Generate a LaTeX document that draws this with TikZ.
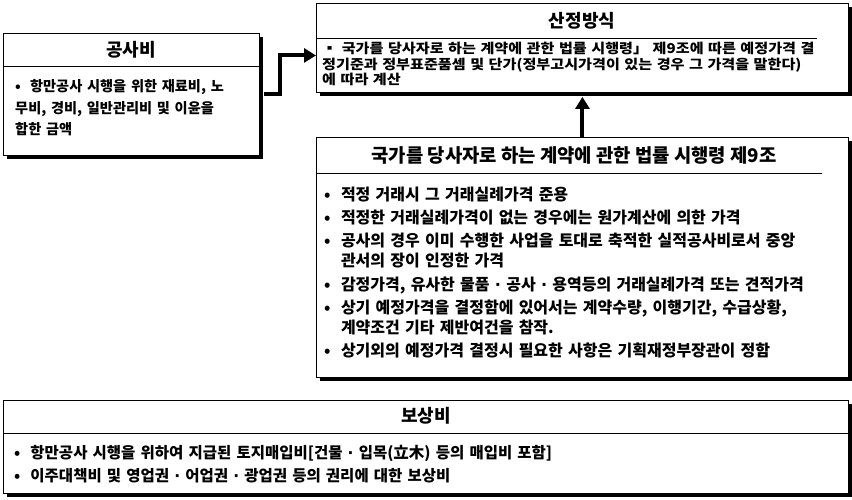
\documentclass[tikz,border=0pt]{standalone}
\usepackage{fontspec}
\setmainfont{Noto Sans CJK KR}
\newfontfamily\widekr{Noto Sans CJK KR}[FakeStretch=1.12]
\newfontfamily\dotfont{DejaVu Sans}
\usetikzlibrary{arrows.meta,shadows,positioning}

\newcommand{\itm}[2][1.05em]{\par\hangindent=#1\hangafter=1\noindent\makebox[#1][l]{•}#2}
\newcommand{\md}{{\dotfont\bfseries ·}}

\begin{document}
\begin{tikzpicture}[line join=miter,>={Triangle[length=12pt,width=14pt]},x=1pt,y=-1pt,
    box/.style={draw=black,line width=0.9pt,fill=white,anchor=north west,inner sep=0pt,
        drop shadow={shadow xshift=4pt,shadow yshift=-4pt,fill=black,opacity=1}},
    title/.style={font=\bfseries\fontsize{18}{20}\selectfont},
    body/.style={anchor=north west,inner sep=0pt,align=left,
        execute at begin node={\setlength{\parskip}{3pt}}},
    flow/.style={->,line width=4pt}]
        \useasboundingbox (0,0) rectangle (852,500);
        % boxes
        \node[box,minimum width=256,minimum height=122] (gongsabi) at (3,33) {};
        \node[box,minimum width=532,minimum height=89] (sanjeong) at (316,3) {};
        \node[box,minimum width=532,minimum height=240] (jeong9) at (316,137) {};
        \node[box,minimum width=845,minimum height=93] (bosangbi) at (3,400) {};
        % header lines
        \draw[line width=0.8pt] (3,66) -- (259,66);
        \draw[line width=0.8pt] (316,38) -- (817,38);
        \draw[line width=0.8pt] (316,173) -- (822,173);
        \draw[line width=0.8pt] (3,433) -- (848,433);
        % titles
        \node[title] (gongsabi title) at (131,50) {공사비};
        \node[title] (sanjeong title) at (582,21) {산정방식};
        \node[title,font=\bfseries\fontsize{18.8}{20}\selectfont] (jeong9 title) at (574,155) {국가를 당사자로 하는 계약에 관한 법률 시행령 제9조};
        \node[title] (bosangbi title) at (426,416) {보상비};
        % texts
        \node[body,text width=245,font=\bfseries\fontsize{14.2}{21.5}\selectfont] (gongsabi text) at (15,67)
            {\itm{항만공사 시행을 위한 재료비, 노\newline 무비, 경비, 일반관리비 및 이윤을\newline 합한 금액}};
        \node[body,text width=530,font=\widekr\bfseries\fontsize{13.5}{15.5}\selectfont] (sanjeong text) at (322,42)
            {\hangindent=3pt\hangafter=1\noindent ▪ 국가를 당사자로 하는 계약에 관한 법률 시행령」 제9조에 따른 예정가격 결\newline 정기준과 정부표준품셈 및 단가(정부고시가격이 있는 경우 그 가격을 말한다)\newline 에 따라 계산};
        \node[body,text width=530,font=\bfseries\fontsize{16}{20.2}\selectfont,
            execute at begin node={\spaceskip=0.33em plus 0.1em}] (jeong9 text) at (324,177)
            {\itm{적정 거래시 그 거래실례가격 준용}
             \itm{적정한 거래실례가격이 없는 경우에는 원가계산에 의한 가격}
             \itm{공사의 경우 이미 수행한 사업을 토대로 축적한 실적공사비로서 중앙\newline 관서의 장이 인정한 가격}
             \itm{감정가격, 유사한 물품 \md{} 공사 \md{} 용역등의 거래실례가격 또는 견적가격}
             \itm{상기 예정가격을 결정함에 있어서는 계약수량, 이행기간, 수급상황,\newline 계약조건 기타 제반여건을 참작.}
             \itm{상기외의 예정가격 결정시 필요한 사항은 기획재정부장관이 정함}};
        \node[body,text width=830,font=\bfseries\fontsize{15.5}{20}\selectfont] (bosangbi text) at (14,435)
            {\itm{항만공사 시행을 위하여 지급된 토지매입비[건물 \md{} 입목(立木) 등의 매입비 포함]}
             \itm{이주대책비 및 영업권 \md{} 어업권 \md{} 광업권 등의 권리에 대한 보상비}};
        % connectors
        \draw[flow] ([xshift=4pt]gongsabi.east) -- ++(16,0) |- ([yshift=-7.5pt]sanjeong.west);
        \draw[flow] (jeong9.north) -- ([yshift=-4pt]sanjeong.south);
\end{tikzpicture}
\end{document}
